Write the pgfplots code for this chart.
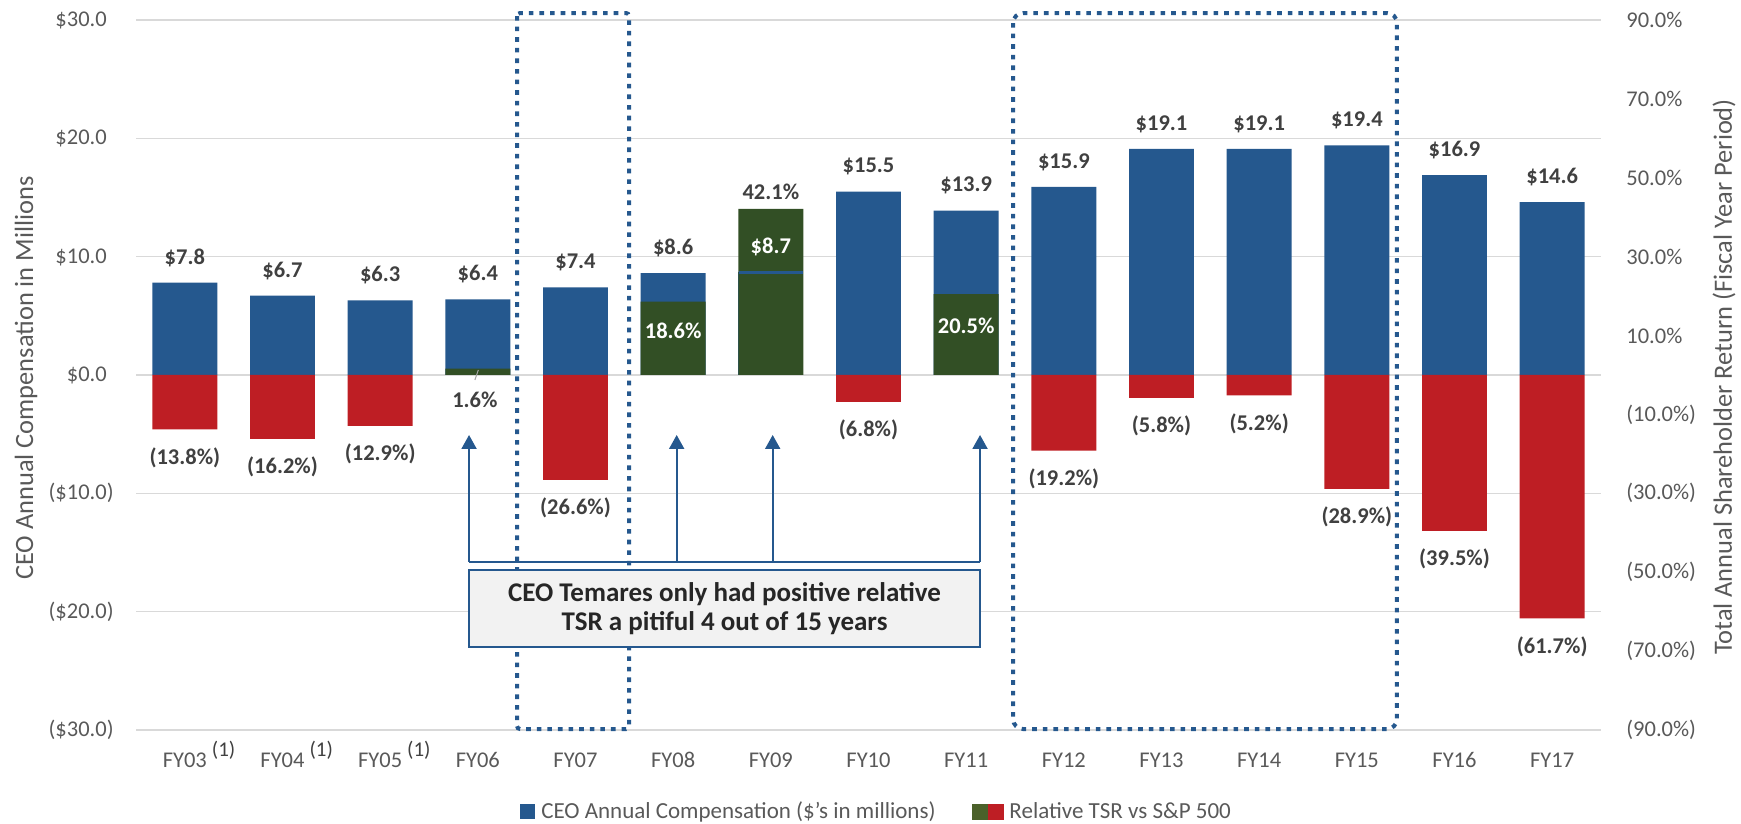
\documentclass[border=0pt]{standalone}
\usepackage{pgfplots}
\pgfplotsset{compat=1.18}
\usepackage{pgfplotstable}
\usepackage{fontspec}
\setmainfont{Carlito}
\usetikzlibrary{arrows.meta}

\definecolor{compblue}{RGB}{37,88,142}
\definecolor{tsrgreen}{RGB}{50,79,37}
\definecolor{legendgreen}{RGB}{75,97,42}
\definecolor{tsrred}{RGB}{190,30,36}
\definecolor{gridgray}{RGB}{217,217,217}
\definecolor{ticktext}{RGB}{89,89,89}
\definecolor{valtext}{RGB}{64,64,64}
\definecolor{boxfill}{RGB}{242,242,242}
\definecolor{boxtext}{RGB}{38,38,38}

% CEO pay in $m, x = category centre
\pgfplotstableread{
x    pay
0.5  7.8
1.5  6.7
2.5  6.3
3.5  6.4
4.5  7.4
5.5  8.6
7.5  15.5
8.5  13.9
9.5  15.9
10.5 19.1
11.5 19.1
12.5 19.4
13.5 16.9
14.5 14.6
}\payA
% FY09 apart: its label sits inside the green bar
\pgfplotstableread{
x    pay
6.5  8.7
}\payB
% relative TSR vs S&P 500 in %
\pgfplotstableread{
x    tsr
3.5  1.6
5.5  18.6
6.5  42.1
8.5  20.5
}\tsrpos
\pgfplotstableread{
x    tsr
0.5  -13.8
1.5  -16.2
2.5  -12.9
4.5  -26.6
7.5  -6.8
9.5  -19.2
10.5 -5.8
11.5 -5.2
12.5 -28.9
13.5 -39.5
14.5 -61.7
}\tsrneg

\newcommand\fn{\rlap{\hspace{2.5pt}\raisebox{5.4pt}{\fontsize{10.5}{12}\selectfont\color{valtext}(1)}}}

\tikzset{
  vlab/.style={font=\bfseries\fontsize{11.25}{13}\selectfont, text=valtext, inner sep=0pt},
  ytitle/.style={rotate=90, anchor=center, font=\fontsize{13.2}{15}\selectfont, text=ticktext},
  dotbox/.style={compblue, line width=2pt, dash pattern=on 2.3pt off 3pt},
}
\pgfplotsset{
  base/.style={
    scale only axis, width=732.5pt, height=355pt,
    xmin=0, xmax=15, clip=false,
    /pgf/number format/assume math mode=true,
    tick label style={font=\fontsize{11.25}{13}\selectfont, text=ticktext, inner sep=0pt},
    major tick length=0pt,
  },
  bars/.style={ybar, bar width=0.665, bar shift=0pt, draw=none},
}

\begin{document}
\begin{tikzpicture}
% left axis: compensation
\begin{axis}[base,
  ymin=-30, ymax=30,
  ytick={-30,-20,...,30},
  yticklabels={(\$30.0),(\$20.0),(\$10.0),\$0.0\phantom{)},\$10.0\phantom{)},\$20.0\phantom{)},\$30.0\phantom{)}},
  xtick={0.5,1.5,...,14.5},
  xticklabels={FY03\fn,FY04\fn,FY05\fn,FY06,FY07,FY08,FY09,FY10,FY11,FY12,FY13,FY14,FY15,FY16,FY17},
  ymajorgrids, grid style={gridgray, line width=0.75pt},
  axis line style={draw=none},
  yticklabel style={anchor=east, xshift=-11pt},
  xticklabel style={anchor=base, yshift=-18.75pt},
  ylabel={CEO Annual Compensation in Millions},
  every axis y label/.style={at={(rel axis cs:-0.0751,0.4958)}, ytitle},
  legend style={at={(rel axis cs:0.5048,-0.1155)}, anchor=center, draw=none, fill=none,
    inner sep=0pt, font=\fontsize{11.5}{13}\selectfont, text=ticktext,
    nodes={inner sep=0pt},
    /tikz/every even column/.append style={column sep=18pt}},
  legend columns=2, legend cell align=left,
]
\addplot[bars, fill=compblue,
  legend image code/.code={\fill[compblue] (0pt,-3.75pt) rectangle (7.5pt,3.75pt);}]
  table[x=x,y=pay]{\payA};
\addlegendentry{\hspace{3pt}CEO Annual Compensation (\$'s in millions)}
\addplot[bars, fill=compblue, forget plot] table[x=x,y=pay]{\payB};
\addlegendimage{legend image code/.code={
  \fill[legendgreen] (0pt,-3.75pt) rectangle (7.5pt,3.75pt);
  \fill[tsrred] (8pt,-3.75pt) rectangle (15.5pt,3.75pt);}}
\addlegendentry{\hspace{3pt}Relative TSR vs S\&P 500}
\end{axis}

% right axis: relative TSR
\begin{axis}[base,
  ymin=-90, ymax=90,
  axis x line=none, axis y line*=right, axis line style={draw=none},
  ytick={-90,-70,...,90},
  yticklabels={(90.0\%),(70.0\%),(50.0\%),(30.0\%),(10.0\%),10.0\%,30.0\%,50.0\%,70.0\%,90.0\%},
  yticklabel style={anchor=west, xshift=12.5pt},
  ylabel={Total Annual Shareholder Return (Fiscal Year Period)},
  every axis y label/.style={at={(rel axis cs:1.084,0.4972)}, ytitle},
]
\addplot[bars, fill=tsrred] table[x=x,y=tsr]{\tsrneg};
\addplot[bars, fill=tsrgreen] table[x=x,y=tsr]{\tsrpos};
\draw[gray!70, line width=0.5pt] (axis cs:3.505,1.27) -- (axis cs:3.47,-1.27);
\node[vlab] at (axis cs:3.47,-6.34) {1.6\%};
\node[vlab, text=white] at (axis cs:5.5,11.23) {18.6\%};
\node[vlab] at (axis cs:6.5,46.48) {42.1\%};
\node[vlab, text=white] at (axis cs:8.5,12.42) {20.5\%};
\node[vlab] at (axis cs:0.5,-20.9) {(13.8\%)};
\node[vlab] at (axis cs:1.5,-23.3) {(16.2\%)};
\node[vlab] at (axis cs:2.5,-20.0) {(12.9\%)};
\node[vlab] at (axis cs:4.5,-33.7) {(26.6\%)};
\node[vlab] at (axis cs:7.5,-13.9) {(6.8\%)};
\node[vlab] at (axis cs:9.5,-26.3) {(19.2\%)};
\node[vlab] at (axis cs:10.5,-12.9) {(5.8\%)};
\node[vlab] at (axis cs:11.5,-12.3) {(5.2\%)};
\node[vlab] at (axis cs:12.5,-36.0) {(28.9\%)};
\node[vlab] at (axis cs:13.5,-46.6) {(39.5\%)};
\node[vlab] at (axis cs:14.5,-68.8) {(61.7\%)};
\end{axis}

% overlay in $ units: pay labels, call-outs
\begin{axis}[base, ymin=-30, ymax=30, hide axis]
\addplot[draw=none, mark=none, point meta=y,
  nodes near coords={\$\pgfmathprintnumber[fixed,fixed zerofill,precision=1]{\pgfplotspointmeta}},
  nodes near coords style={vlab, anchor=center, yshift=12.5pt}]
  table[x=x,y=pay]{\payA};
\addplot[draw=none, mark=none, point meta=y,
  nodes near coords={\$\pgfmathprintnumber[fixed,fixed zerofill,precision=1]{\pgfplotspointmeta}},
  nodes near coords style={vlab, text=white, anchor=center, yshift=12.5pt},
  error bars/.cd, x dir=both, x fixed=0.325, error mark=none,
  error bar style={compblue, line width=1.5pt}]
  table[x=x,y=pay]{\payB};

\draw[dotbox, rounded corners=1.5pt] (axis cs:3.901,30.59) rectangle (axis cs:5.048,-29.92);
\draw[dotbox, rounded corners=5pt] (axis cs:8.980,30.59) rectangle (axis cs:12.911,-29.92);

\draw[compblue, line width=1pt] (axis cs:3.410,-15.80) -- (axis cs:8.642,-15.80);
\draw[compblue, line width=1pt, -{Triangle[width=7.5pt,length=7pt]}] (axis cs:3.410,-15.80) -- (axis cs:3.410,-5.07);
\draw[compblue, line width=1pt, -{Triangle[width=7.5pt,length=7pt]}] (axis cs:5.536,-15.80) -- (axis cs:5.536,-5.07);
\draw[compblue, line width=1pt, -{Triangle[width=7.5pt,length=7pt]}] (axis cs:6.519,-15.80) -- (axis cs:6.519,-5.07);
\draw[compblue, line width=1pt, -{Triangle[width=7.5pt,length=7pt]}] (axis cs:8.642,-15.80) -- (axis cs:8.642,-5.07);

\draw[compblue, line width=1pt, fill=boxfill] (axis cs:3.410,-16.48) rectangle (axis cs:8.642,-22.99);
\node[align=center, font=\bfseries\fontsize{13.5}{14.5}\selectfont, text=boxtext]
  at (axis cs:6.026,-19.73) {CEO Temares only had positive relative\\TSR a pitiful 4 out of 15 years};

\coordinate (bbsw) at (rel axis cs:-0.09283,-0.13239);
\coordinate (bbne) at (rel axis cs:1.09556,1.02817);
\end{axis}
\pgfresetboundingbox
\path[use as bounding box] (bbsw) rectangle (bbne);
\end{tikzpicture}
\end{document}
